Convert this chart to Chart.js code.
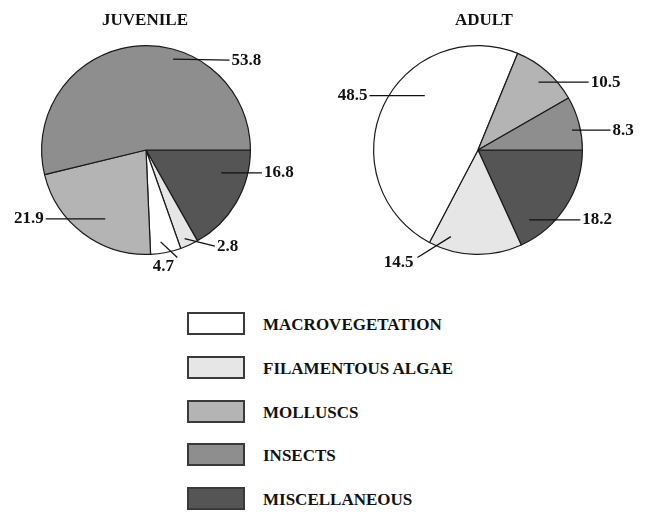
<!DOCTYPE html>
<html>
<head>
<meta charset="utf-8">
<script src="https://cdn.jsdelivr.net/npm/chart.js@4/dist/chart.umd.min.js"></script>
<style>
  html, body { margin: 0; padding: 0; background: #fff; }
  #wrap { position: relative; width: 648px; height: 512px; overflow: hidden; background: #fff; }
  canvas { position: absolute; top: 0; }
  .title { position: absolute; font: bold 17px "Liberation Serif", "DejaVu Serif", serif; color: #111; text-align: center; width: 200px; line-height: 20px; }
  .lg-box { position: absolute; left: 187px; width: 58px; height: 23px; box-sizing: border-box; border: 2px solid #3a3a3a; }
  .lg-text { position: absolute; left: 263px; font: bold 17px "Liberation Serif", "DejaVu Serif", serif; color: #111; line-height: 23px; white-space: nowrap; }
</style>
</head>
<body>
<div id="wrap">
  <canvas id="juv" width="324" height="290" style="left:0px"></canvas>
  <canvas id="adu" width="324" height="290" style="left:324px"></canvas>
</div>
<script>
// ---- data (legend order) ----
const categories = ['MACROVEGETATION', 'FILAMENTOUS ALGAE', 'MOLLUSCS', 'INSECTS', 'MISCELLANEOUS'];
const juvenileValues = [4.7, 2.8, 21.9, 53.8, 16.8];
const adultValues = [48.5, 14.5, 10.5, 8.3, 18.2];
const chartTitles = ['JUVENILE', 'ADULT'];
// order in which slices are drawn clockwise from 3 o'clock
const pieOrder = [4, 1, 0, 2, 3];

// ---- styles ----
const fillColors = ['#ffffff', '#e6e6e6', '#b4b4b4', '#8e8e8e', '#555555'];

// label leader-line layout (in radius units, relative to pie centre), keyed by category index
const juvenileLabelLayout = {
  3: { s: [0.26, -0.87], e: [0.80, -0.86], align: 'left' },
  4: { s: [0.72, 0.22], e: [1.11, 0.22], align: 'left' },
  1: { s: [0.37, 0.85], e: [0.66, 0.92], align: 'left', dy: 1 },
  0: { s: [0.14, 0.88], e: [0.30, 1.03], align: 'center', dx: -14, dy: 9 },
  2: { s: [-0.39, 0.66], e: [-0.96, 0.66], align: 'right' }
};
const adultLabelLayout = {
  0: { s: [-0.51, -0.52], e: [-1.04, -0.52], align: 'right' },
  2: { s: [0.58, -0.65], e: [1.06, -0.65], align: 'left' },
  3: { s: [0.90, -0.19], e: [1.27, -0.19], align: 'left' },
  4: { s: [0.49, 0.67], e: [0.98, 0.67], align: 'left' },
  1: { s: [-0.26, 0.83], e: [-0.58, 1.03], align: 'right', dx: -2, dy: 5 }
};

const labelFont = 'bold 17px "Liberation Serif", "DejaVu Serif", serif';

function leaderPlugin(values, layout) {
  return {
    id: 'leaders',
    afterDatasetsDraw(chart) {
      const arc = chart.getDatasetMeta(0).data[0];
      if (!arc) return;
      const { x: cx, y: cy, outerRadius: R } = arc.getProps(['x', 'y', 'outerRadius'], true);
      const ctx = chart.ctx;
      ctx.save();
      ctx.strokeStyle = '#111';
      ctx.fillStyle = '#111';
      ctx.lineWidth = 1.3;
      ctx.font = labelFont;
      ctx.textBaseline = 'middle';
      Object.keys(layout).forEach(k => {
        const L = layout[k];
        const sx = cx + L.s[0] * R, sy = cy + L.s[1] * R;
        const ex = cx + L.e[0] * R, ey = cy + L.e[1] * R;
        ctx.beginPath();
        ctx.moveTo(sx, sy);
        ctx.lineTo(ex, ey);
        ctx.stroke();
        const txt = values[k].toFixed(1);
        ctx.textAlign = L.align;
        let tx = ex, ty = ey + (L.dy || 0);
        if (L.align === 'left') tx = ex + 2;
        if (L.align === 'right') tx = ex - 2;
        tx += (L.dx || 0);
        ctx.fillText(txt, tx, ty);
      });
      ctx.restore();
    }
  };
}

function makePie(id, values, layout, padding) {
  return new Chart(document.getElementById(id), {
    type: 'pie',
    data: {
      labels: pieOrder.map(i => categories[i]),
      datasets: [{
        data: pieOrder.map(i => values[i]),
        backgroundColor: pieOrder.map(i => fillColors[i]),
        borderColor: '#1a1a1a',
        borderWidth: 1.2
      }]
    },
    options: {
      responsive: false,
      animation: false,
      rotation: 90,
      layout: { padding },
      plugins: { legend: { display: false }, tooltip: { enabled: false } }
    },
    plugins: [leaderPlugin(values, layout)]
  });
}

makePie('juv', juvenileValues, juvenileLabelLayout, { left: 41, top: 45, right: 73, bottom: 35 });
makePie('adu', adultValues, adultLabelLayout, { left: 49, top: 45, right: 65, bottom: 35 });

// titles
const wrap = document.getElementById('wrap');
const titleCenters = [145, 484];
chartTitles.forEach((t, i) => {
  const d = document.createElement('div');
  d.className = 'title';
  d.textContent = t;
  d.style.left = (titleCenters[i] - 100) + 'px';
  d.style.top = '10px';
  wrap.appendChild(d);
});

// legend
categories.forEach((c, i) => {
  const top = 312 + i * 43.8;
  const b = document.createElement('div');
  b.className = 'lg-box';
  b.style.top = top + 'px';
  b.style.background = fillColors[i];
  wrap.appendChild(b);
  const t = document.createElement('div');
  t.className = 'lg-text';
  t.style.top = (top + 1) + 'px';
  t.textContent = c;
  wrap.appendChild(t);
});
</script>
</body>
</html>
